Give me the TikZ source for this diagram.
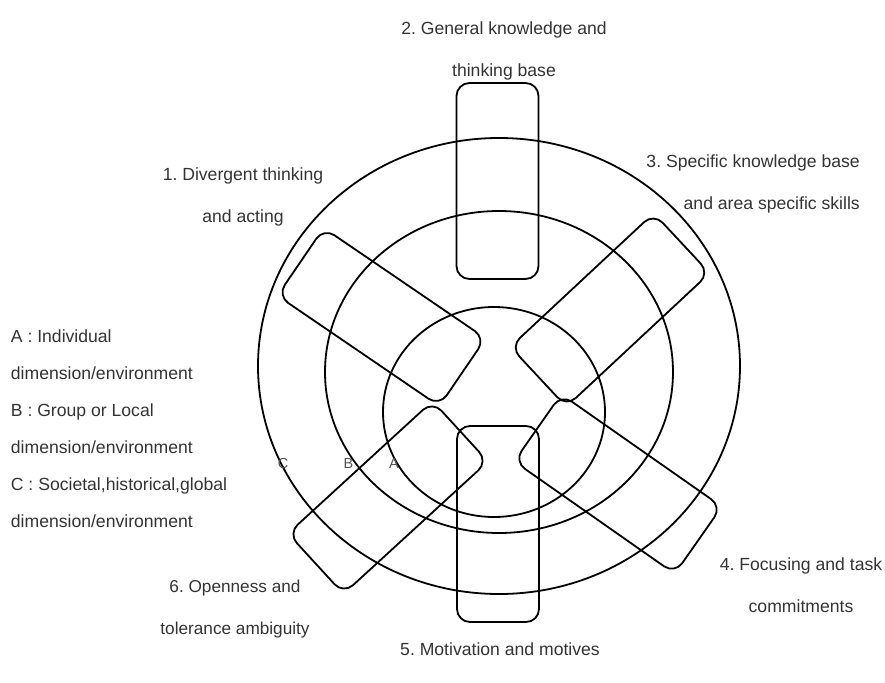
\documentclass[tikz,border=0pt]{standalone}
\usepackage{fontspec}
\setmainfont{Liberation Sans}
\usetikzlibrary{positioning}
\frenchspacing

\begin{document}
\begin{tikzpicture}[x=1pt,y=-1pt,line width=1.8pt,
  part/.style={draw,rounded corners=13pt,minimum width=196pt,minimum height=82pt,inner sep=0pt},
  lbl/.style={text=black!80,font=\fontsize{17.6}{42}\selectfont,align=center},
  tag/.style={text=black!68,font=\fontsize{14.5}{16}\selectfont,inner sep=0pt}]
\useasboundingbox (0,0) rectangle (885,682);
% environments A, B, C
\draw (499,366) ellipse [x radius=241pt, y radius=228pt];
\draw (499,372) ellipse [x radius=174pt, y radius=161pt];
\draw (494,412) ellipse [x radius=111pt, y radius=105pt];
% the six components
\node[part,rotate=90] (know) at (497.5,181) {};
\node[part,rotate=-34.3] (div) at (381.5,317) {};
\node[part,rotate=43] (spec) at (610,310) {};
\node[part,rotate=-35] (focus) at (618,484) {};
\node[part,rotate=90] (motiv) at (498,524) {};
\node[part,rotate=42.5] (open) at (388,497.5) {};
% labels
\node[lbl] (l2) at (504,51) {2. General knowledge and\\thinking base};
\node[lbl] (l1) at (243,197) {1. Divergent thinking\\and acting};
\node[lbl,align=right,anchor=east] (l3) at (864,184) {3. Specific knowledge base\\and area specific skills};
\node[lbl] (l4) at (801,585) {4. Focusing and task\\commitments};
\node[lbl] (l5) at (500,649) {5. Motivation and motives};
\node[lbl,font=\fontsize{17.2}{42}\selectfont] (l6) at (235,609) {6. Openness and\\tolerance ambiguity};
\node[lbl,align=left,anchor=west,inner sep=0pt,font=\fontsize{17.6}{37}\selectfont] (key) at (10,428.5) {A : Individual\\dimension/environment\\B : Group or Local\\dimension/environment\\C : Societal,historical,global\\dimension/environment};
\node[tag] (c) at (283,464) {C};
\node[tag] (b) at (348.5,464) {B};
\node[tag] (a) at (394,464) {A};
\end{tikzpicture}
\end{document}
